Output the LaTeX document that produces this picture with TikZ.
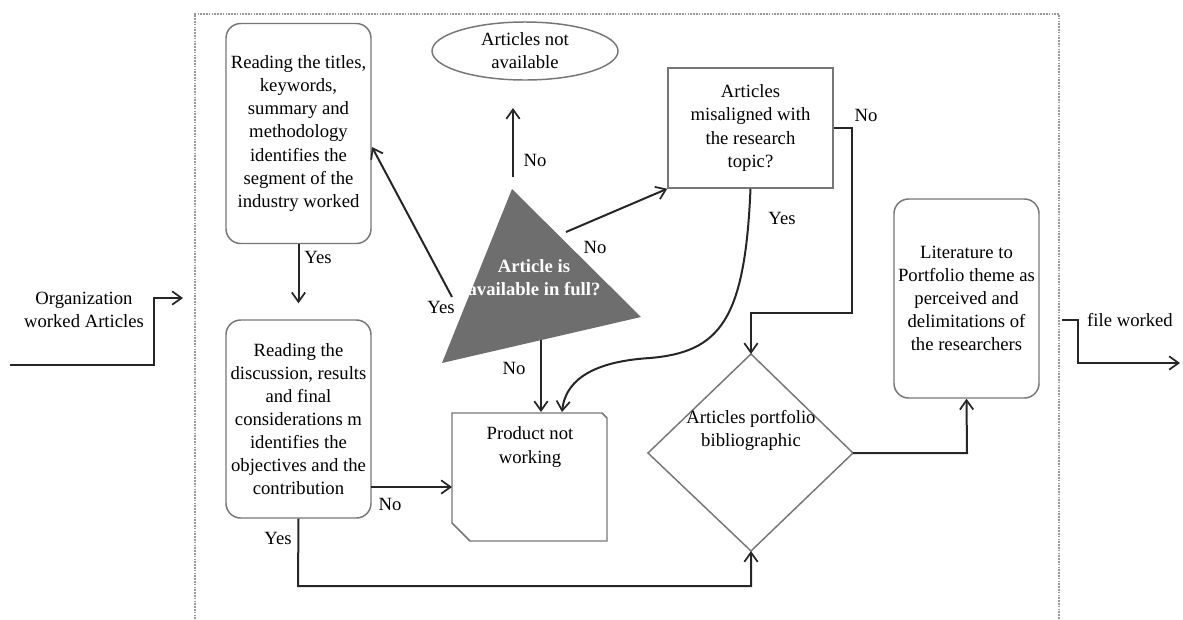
\documentclass[tikz,border=0pt]{standalone}
\usepackage{fontspec}
\setmainfont{Liberation Serif}
\usetikzlibrary{arrows.meta,shapes.geometric}
\definecolor{boxgray}{HTML}{767676}
\definecolor{linedark}{HTML}{262626}
\definecolor{trifill}{HTML}{6E6E6E}
\begin{document}
\begin{tikzpicture}[x=0.75pt,y=-0.75pt,
  every node/.style={font=\fontsize{14}{17.3}\selectfont, align=center, inner sep=0pt},
  rbox/.style={draw=boxgray, line width=1.1pt, rounded corners=11pt},
  sbox/.style={draw=boxgray, line width=1.1pt},
  conn/.style={draw=linedark, line width=1.5pt, -{Straight Barb[length=7pt,width=10pt,line width=1.3pt]}},
  frame/.style={draw=gray!80, line width=0.8pt, dash pattern=on 1.2pt off 0.9pt}]

\useasboundingbox (0,0) rectangle (1183,619);

% dashed process frame
\draw[frame] (195,619) -- (195,14) -- (1059,14) -- (1059,619);

% boxes
\node[rbox, minimum width=108.75pt, minimum height=165pt] (titles) at (298.5,133.5)
  {Reading the titles,\\ keywords,\\ summary and\\ methodology\\ identifies the\\ segment of the\\ industry worked};
\node[rbox, minimum width=108.75pt, minimum height=148.5pt] (discuss) at (298.5,419)
  {Reading the\\ discussion, results\\ and final\\ considerations m\\ identifies the\\ objectives and the\\ contribution};
\node[draw=boxgray, line width=1.1pt, ellipse, minimum width=139.5pt, minimum height=43.5pt] (notavail) at (525,51)
  {Articles not\\ available};
\node[sbox, minimum width=123.75pt, minimum height=90pt] (misalign) at (750.5,128)
  {Articles\\ misaligned with\\ the research\\ topic?};
\node[rbox, minimum width=108.75pt, minimum height=149.25pt] (lit) at (966.5,298.5)
  {Literature to\\ Portfolio theme as\\ perceived and\\ delimitations of\\ the researchers};

% decision triangle
\coordinate (tA) at (512,189);
\coordinate (tL) at (442,363);
\coordinate (tR) at (641,317);
\fill[trifill] (tA) -- (tR) -- (tL) -- cycle;
\node[text=white, font=\fontsize{14}{17.3}\selectfont\bfseries] (avail) at (534,278) {Article is\\ available in full?};

% product box with cut corners
\draw[sbox] (452,413) -- (602,413) -- (607,418) -- (607,541) -- (470,541) -- (452,523) -- cycle;
\node (product) at (530,447) {Product not\\ working};

% diamond
\coordinate (dN) at (751,354);
\coordinate (dS) at (751,551);
\coordinate (dW) at (648,453);
\coordinate (dE) at (853,453);
\draw[sbox] (dN) -- (dE) -- (dS) -- (dW) -- cycle;
\node (portfolio) at (751,430) {Articles portfolio\\ bibliographic};

% connector end points
\coordinate (inStart) at (10,365);
\coordinate (inEnd) at (183,298);
\coordinate (outStart) at (1062,320);
\coordinate (outEnd) at (1180,363);
\coordinate (apexOut) at (513,177);
\coordinate (naIn) at (513,108);
\coordinate (yesOut) at (452,297);
\coordinate (titlesIn) at (372,147);
\coordinate (noOut) at (566,232);
\coordinate (downOut) at (541,340);
\coordinate (prodTop) at (541,412);
\coordinate (prodTopR) at (562,412);
\coordinate (discNo) at (371,487);
\coordinate (prodLeft) at (452,487);

% connectors
\draw[conn] (inStart) -- (154,365) -- (154,298) -- (inEnd);
\draw[conn] (titles.south) -- ([yshift=12]discuss.north);
\draw[conn] (yesOut) -- (titlesIn);
\draw[conn] (apexOut) -- (naIn);
\draw[conn] (noOut) -- (misalign.south west);
\draw[conn] (misalign.east) -- (852,128) -- (852,313) -- (751,313) -- (dN);
\draw[conn] (misalign.south) .. controls (745,320) and (720,352) .. (650,358)
  .. controls (585,362) and (565,385) .. (prodTopR);
\draw[conn] (downOut) -- (prodTop);
\draw[conn] (discNo) -- (prodLeft);
\draw[conn] (discuss.south) -- (298,586) -- (751,586) -- (dS);
\draw[conn] (dE) -- (967,453) -- (lit.south);
\draw[conn] (outStart) -- (1078,320) -- (1078,363) -- (outEnd);

% labels
\node (inLabel) at (84,310) {Organization\\ worked Articles};
\node (outLabel) at (1130,320) {file worked};
\node at (318,257) {Yes};
\node at (441,307) {Yes};
\node at (535,160) {No};
\node at (595,247) {No};
\node at (866,115) {No};
\node at (782,218) {Yes};
\node at (514,368) {No};
\node at (390,504) {No};
\node at (278,538) {Yes};
\end{tikzpicture}
\end{document}
